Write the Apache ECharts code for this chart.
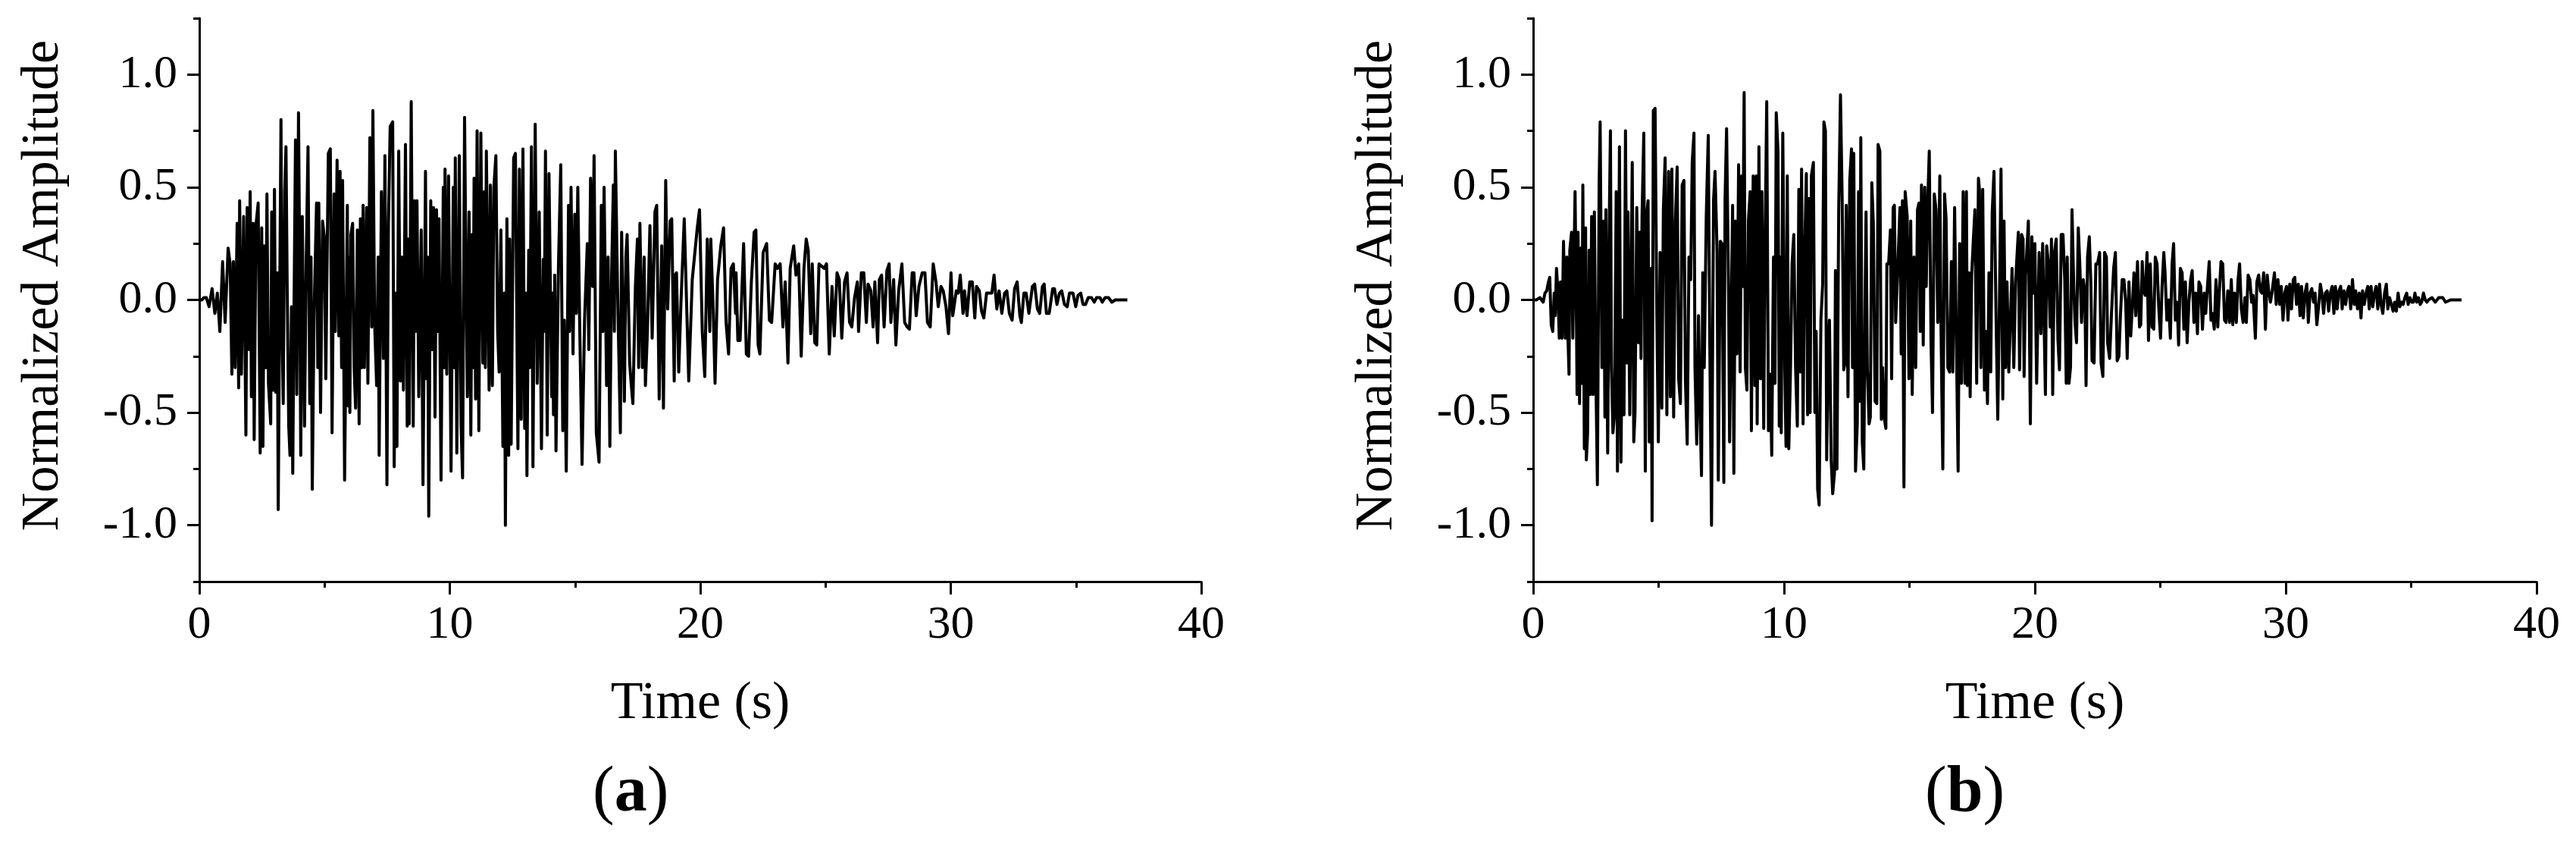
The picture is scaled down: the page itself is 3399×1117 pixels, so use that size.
<!DOCTYPE html>
<html>
<head>
<meta charset="utf-8">
<script src="https://cdn.jsdelivr.net/npm/echarts@6/dist/echarts.min.js"></script>
<style>
html,body{margin:0;padding:0;background:#fff;}
#chart{width:3399px;height:1117px;}
</style>
</head>
<body>
<div id="chart"></div>
<script>
// ---------- data ----------
const xTicks = [0, 10, 20, 30, 40];
const yMajorTicks = [-1.0, -0.5, 0.0, 0.5, 1.0];
const yMinorTicks = [-1.25, -0.75, -0.25, 0.25, 0.75, 1.25];
const xAxisTitle = 'Time (s)';
const yAxisTitle = 'Normalized Amplitude';
const panelLabels = ['a', 'b'];

// record (a): [time s, normalized amplitude]
const recordA = [
[0,0],[0.1,0.0],[0.19,0.01],[0.28,0.01],[0.39,-0.03],[0.51,0.05],[0.62,-0.06],[0.72,0.03],[0.82,-0.14],[0.93,0.17],[1.03,-0.10],[1.15,0.23],[1.23,0.16],[1.30,-0.33],[1.36,0.17],[1.43,-0.30],[1.51,0.34],[1.57,-0.39],[1.61,0.44],[1.68,-0.33],[1.77,0.37],[1.86,-0.60],[1.91,0.41],[1.96,-0.22],[2.03,0.48],[2.08,-0.43],[2.15,0.34],[2.19,-0.62],[2.26,0.33],[2.35,0.43],[2.43,-0.68],[2.49,0.32],[2.54,-0.65],[2.59,0.24],[2.65,-0.30],[2.70,0.47],[2.76,-0.37],[2.85,-0.55],[2.89,0.39],[2.95,-0.40],[3.00,0.49],[3.05,-0.41],[3.11,0.12],[3.15,-0.93],[3.26,0.80],[3.30,-0.10],[3.35,-0.46],[3.41,0.48],[3.46,0.68],[3.51,0.04],[3.57,-0.56],[3.62,-0.69],[3.68,-0.03],[3.73,-0.77],[3.78,-0.04],[3.84,0.71],[3.89,-0.42],[3.96,0.83],[4.00,0.27],[4.05,-0.69],[4.11,0.37],[4.20,-0.56],[4.27,0.19],[4.34,0.68],[4.41,-0.46],[4.46,0.19],[4.51,-0.84],[4.58,-0.07],[4.68,0.43],[4.73,-0.30],[4.77,0.43],[4.84,-0.50],[4.92,0.35],[4.99,0.28],[5.05,-0.35],[5.15,0.65],[5.23,0.67],[5.30,-0.59],[5.38,0.47],[5.43,-0.14],[5.50,0.62],[5.57,-0.16],[5.62,0.57],[5.68,-0.30],[5.72,0.53],[5.80,-0.80],[5.91,0.42],[5.93,-0.47],[5.99,0.19],[6.01,-0.50],[6.05,0.29],[6.12,0.34],[6.18,-0.30],[6.24,-0.48],[6.31,0.31],[6.38,-0.55],[6.43,0.36],[6.49,-0.30],[6.54,0.42],[6.59,-0.30],[6.68,0.41],[6.73,-0.37],[6.81,0.72],[6.88,-0.12],[6.93,0.84],[7.00,-0.11],[7.08,-0.38],[7.14,0.19],[7.18,-0.69],[7.27,0.48],[7.35,-0.26],[7.41,0.64],[7.49,-0.82],[7.55,0.34],[7.62,0.77],[7.72,0.79],[7.78,-0.74],[7.84,0.03],[7.89,-0.65],[7.96,0.66],[8.03,-0.36],[8.08,0.19],[8.15,-0.40],[8.23,0.69],[8.30,-0.56],[8.34,0.27],[8.38,-0.55],[8.46,0.88],[8.54,-0.56],[8.59,0.44],[8.65,-0.14],[8.69,0.44],[8.76,-0.43],[8.86,0.31],[8.93,-0.82],[9.03,0.57],[9.07,-0.35],[9.11,0.19],[9.16,-0.96],[9.24,0.44],[9.30,-0.22],[9.35,0.41],[9.41,-0.52],[9.47,0.40],[9.53,-0.14],[9.57,0.36],[9.65,-0.80],[9.74,0.50],[9.78,-0.30],[9.81,0.58],[9.88,-0.33],[9.95,0.55],[10.05,-0.76],[10.14,0.50],[10.18,-0.30],[10.22,0.63],[10.28,-0.68],[10.38,0.64],[10.45,-0.56],[10.51,-0.79],[10.59,0.81],[10.65,0.09],[10.70,-0.43],[10.77,0.39],[10.84,-0.60],[10.89,0.29],[10.93,-0.30],[10.97,0.54],[11.03,-0.44],[11.09,0.75],[11.16,-0.58],[11.24,0.74],[11.32,-0.28],[11.38,0.48],[11.42,-0.30],[11.46,0.66],[11.57,-0.40],[11.62,0.51],[11.70,-0.38],[11.76,0.50],[11.84,0.64],[11.91,-0.14],[11.97,-0.32],[12.04,0.31],[12.12,-0.65],[12.18,0.03],[12.22,-1.00],[12.28,0.36],[12.35,-0.69],[12.39,0.27],[12.45,-0.64],[12.55,0.63],[12.62,0.65],[12.72,-0.66],[12.78,0.58],[12.85,-0.53],[12.92,0.67],[12.99,-0.57],[13.03,0.03],[13.08,-0.78],[13.15,0.22],[13.19,-0.30],[13.26,0.68],[13.32,-0.74],[13.41,0.78],[13.49,-0.37],[13.57,0.39],[13.66,-0.66],[13.73,0.18],[13.77,-0.14],[13.82,0.66],[13.89,-0.60],[13.96,0.56],[14.07,-0.43],[14.11,0.03],[14.14,-0.51],[14.19,0.11],[14.24,-0.67],[14.34,0.16],[14.43,0.60],[14.51,-0.58],[14.57,-0.09],[14.65,-0.76],[14.74,0.42],[14.78,-0.14],[14.84,0.50],[14.92,-0.24],[14.99,0.38],[15.05,-0.06],[15.11,0.50],[15.18,-0.07],[15.28,-0.73],[15.38,-0.09],[15.49,0.25],[15.55,-0.22],[15.62,0.54],[15.70,0.06],[15.76,0.64],[15.85,-0.59],[15.96,-0.72],[16.05,0.42],[16.11,-0.14],[16.16,0.50],[16.26,-0.38],[16.32,0.19],[16.39,-0.65],[16.46,0.11],[16.53,0.51],[16.57,-0.14],[16.61,0.66],[16.70,0.03],[16.81,-0.59],[16.86,0.30],[16.97,-0.45],[17.03,0.19],[17.08,0.29],[17.18,-0.28],[17.24,-0.37],[17.31,-0.46],[17.41,0.06],[17.49,0.27],[17.54,-0.30],[17.59,0.34],[17.69,-0.30],[17.76,0.19],[17.81,-0.38],[17.89,-0.14],[17.99,0.33],[18.08,-0.17],[18.19,0.39],[18.26,0.42],[18.36,-0.44],[18.46,0.24],[18.53,-0.48],[18.62,0.53],[18.70,-0.04],[18.80,0.35],[18.86,0.36],[18.96,-0.36],[19.00,0.11],[19.05,0.12],[19.14,-0.32],[19.23,-0.01],
[19.36,0.36],[19.54,-0.36],[19.68,0.09],[19.88,0.32],[19.97,0.40],[20.08,-0.14],[20.18,-0.34],[20.28,0.27],[20.38,-0.14],[20.42,0.27],[20.51,-0.02],[20.59,-0.37],[20.69,0.09],[20.82,0.24],[20.93,0.32],[21.03,-0.10],[21.13,-0.24],[21.23,0.14],[21.32,0.16],[21.41,-0.06],[21.43,0.12],[21.50,-0.18],[21.59,-0.18],[21.73,0.25],[21.84,-0.24],[21.93,-0.25],[22.04,0.08],[22.15,0.30],[22.22,0.31],[22.31,-0.20],[22.38,-0.24],[22.51,0.21],[22.65,0.25],[22.76,-0.09],[22.85,-0.10],[22.99,0.16],[23.08,0.14],[23.19,0.16],[23.30,-0.12],[23.39,0.08],[23.50,-0.28],[23.59,0.14],[23.73,0.24],[23.82,0.11],[23.93,0.16],[24.03,-0.25],[24.14,0.14],[24.23,0.27],[24.31,0.22],[24.41,-0.15],[24.47,0.16],[24.57,-0.19],[24.65,-0.20],[24.74,0.16],[24.84,0.15],[24.95,0.14],[25.04,0.16],[25.15,-0.24],[25.26,0.06],[25.35,-0.16],[25.46,0.12],[25.55,0.09],[25.65,-0.17],[25.76,0.08],[25.86,0.12],[25.96,-0.10],[26.05,-0.12],[26.16,0.01],[26.27,0.08],[26.32,-0.14],[26.43,0.12],[26.53,0.12],[26.63,-0.10],[26.70,0.07],[26.81,0.04],[26.90,-0.12],[26.97,0.08],[27.08,-0.19],[27.15,0.09],[27.24,0.11],[27.34,-0.12],[27.45,0.13],[27.54,0.16],[27.61,-0.10],[27.72,0.09],[27.81,-0.20],[27.92,0.04],[28.05,0.16],[28.16,-0.10],[28.26,-0.12],[28.35,-0.13],[28.46,0.12],[28.53,0.12],[28.62,-0.07],[28.73,0.06],[28.86,0.12],[28.97,0.12],[29.07,-0.10],[29.18,-0.12],[29.30,0.16],[29.41,0.08],[29.50,-0.03],[29.61,0.06],[29.70,0.04],[29.81,-0.03],[29.91,-0.15],[30.01,0.12],[30.08,-0.07],[30.22,0.04],[30.30,0.03],[30.38,0.11],[30.49,-0.06],[30.55,0.04],[30.65,-0.07],[30.76,0.08],[30.86,0.08],[30.96,-0.08],[31.03,0.06],[31.14,0.04],[31.23,-0.05],[31.32,-0.08],[31.43,0.03],[31.54,0.03],[31.64,0.03],[31.73,0.11],[31.84,-0.04],[31.93,0.04],[32.04,-0.06],[32.15,0.03],[32.24,0.04],[32.34,-0.06],[32.45,-0.09],[32.55,0.05],[32.65,0.08],[32.76,-0.07],[32.82,-0.10],[32.92,0.03],[33.01,0.03],[33.12,-0.06],[33.26,0.06],[33.35,0.07],[33.46,-0.04],[33.55,-0.06],[33.66,0.06],[33.73,0.07],[33.82,-0.06],[33.93,-0.06],[34.07,0.05],[34.14,0.05],[34.24,-0.02],[34.34,0.03],[34.43,0.04],[34.54,-0.02],[34.65,-0.03],[34.74,0.03],[34.88,0.03],[34.99,-0.03],[35.08,0.02],[35.19,0.03],[35.28,-0.02],[35.38,-0.02],[35.49,0.01],[35.62,0.01],[35.73,-0.01],[35.82,0.01],[35.96,0.01],[36.05,-0.01],[36.16,0.01],[36.30,0.01],[36.43,-0.01],[36.57,0],[36.70,0],[37.05,0]
];

// record (b): [time s, normalized amplitude]
const recordB = [
[0,0],[0.13,0.0],[0.27,0.01],[0.40,-0.01],[0.47,0.03],[0.54,0.04],[0.61,0.08],[0.66,0.10],[0.72,-0.11],[0.78,-0.14],[0.84,0.03],[0.88,-0.07],[0.93,0.14],[0.99,0.03],[1.04,-0.17],[1.09,0.08],[1.15,-0.17],[1.21,0.26],[1.28,-0.17],[1.34,0.19],[1.39,-0.18],[1.43,-0.33],[1.46,0.22],[1.53,0.30],[1.58,-0.17],[1.63,0.19],[1.67,0.48],[1.73,-0.14],[1.75,-0.42],[1.79,0.30],[1.85,-0.46],[1.89,0.23],[1.94,-0.37],[1.98,0.51],[2.04,-0.66],[2.09,0.32],[2.12,-0.71],[2.17,-0.59],[2.23,0.22],[2.28,-0.42],[2.33,0.37],[2.39,-0.42],[2.44,0.39],[2.50,-0.34],[2.56,-0.82],[2.63,0.52],[2.67,0.79],[2.74,-0.30],[2.81,0.35],[2.86,-0.52],[2.90,0.40],[2.97,-0.68],[3.04,0.40],[3.08,0.75],[3.12,-0.30],[3.18,-0.59],[3.24,-0.51],[3.31,0.48],[3.36,-0.76],[3.44,0.68],[3.50,-0.72],[3.55,-0.09],[3.62,-0.51],[3.68,0.75],[3.74,-0.28],[3.78,0.39],[3.85,-0.51],[3.95,0.61],[4.01,-0.63],[4.06,-0.50],[4.13,0.41],[4.20,-0.19],[4.25,0.30],[4.30,-0.26],[4.34,0.37],[4.41,0.74],[4.47,-0.76],[4.52,0.37],[4.58,0.44],[4.63,-0.63],[4.70,0.14],[4.74,-0.98],[4.79,0.84],[4.86,0.85],[4.93,-0.07],[4.99,-0.63],[5.06,0.21],[5.13,-0.48],[5.19,0.40],[5.26,0.63],[5.33,-0.51],[5.40,0.57],[5.47,-0.43],[5.53,0.58],[5.60,-0.52],[5.67,0.35],[5.74,0.59],[5.80,-0.35],[5.87,-0.46],[5.94,0.51],[6.01,0.53],[6.07,-0.36],[6.14,-0.64],[6.21,0.19],[6.28,0.09],[6.34,0.61],[6.41,0.74],[6.45,-0.30],[6.52,-0.64],[6.59,-0.07],[6.65,-0.48],[6.71,-0.78],[6.76,0.12],[6.82,-0.30],[6.90,0.37],[6.98,0.73],[7.04,-0.19],[7.11,-1.00],[7.19,0.44],[7.25,0.57],[7.33,0.22],[7.38,-0.80],[7.46,0.26],[7.53,0.25],[7.60,-0.81],[7.65,0.45],[7.71,0.76],[7.79,0.03],[7.83,-0.63],[7.89,-0.63],[7.95,0.42],[8.00,-0.77],[8.06,0.35],[8.12,-0.24],[8.19,0.60],[8.25,-0.32],[8.31,0.55],[8.35,0.06],[8.41,0.92],[8.46,-0.30],[8.52,-0.40],[8.58,0.35],[8.65,0.48],[8.70,-0.58],[8.77,0.55],[8.84,-0.38],[8.89,0.55],[8.93,-0.55],[9.00,0.68],[9.06,-0.35],[9.12,0.48],[9.19,-0.57],[9.24,0.19],[9.31,0.88],[9.38,-0.58],[9.45,-0.33],[9.51,-0.69],[9.58,0.19],[9.64,-0.37],[9.69,0.83],[9.76,0.66],[9.81,-0.56],[9.85,0.19],[9.89,-0.59],[9.95,0.74],[10.03,-0.30],[10.08,-0.65],[10.13,0.55],[10.19,-0.66],[10.26,-0.30],[10.32,0.16],[10.39,0.29],[10.46,-0.30],[10.53,-0.56],[10.59,0.49],[10.65,-0.32],[10.70,0.58],[10.76,-0.55],[10.82,0.19],[10.89,0.56],[10.94,-0.51],[11.00,0.45],[11.04,-0.50],[11.09,0.55],[11.17,0.61],[11.23,-0.50],[11.28,-0.14],[11.34,-0.84],[11.40,-0.91],[11.47,-0.09],[11.54,0.07],[11.59,0.79],[11.65,0.75],[11.70,-0.71],[11.75,-0.30],[11.81,-0.09],[11.88,-0.71],[11.94,-0.86],[12.01,-0.77],[12.05,0.13],[12.11,-0.75],[12.18,0.40],[12.25,0.91],[12.32,0.43],[12.38,-0.31],[12.43,-0.28],[12.48,0.42],[12.55,-0.43],[12.62,0.53],[12.69,0.67],[12.73,-0.30],[12.78,0.65],[12.85,-0.76],[12.92,-0.55],[12.97,0.48],[13.02,-0.45],[13.06,0.72],[13.12,-0.63],[13.18,-0.75],[13.23,-0.01],[13.27,0.39],[13.32,-0.30],[13.39,-0.55],[13.44,-0.52],[13.50,0.52],[13.56,0.34],[13.63,-0.45],[13.70,-0.46],[13.75,0.69],[13.82,0.66],[13.88,-0.53],[13.93,-0.30],[13.99,-0.52],[14.06,-0.57],[14.10,0.16],[14.17,0.16],[14.24,0.31],[14.29,-0.35],[14.35,0.41],[14.40,0.42],[14.45,-0.10],[14.51,-0.10],[14.57,0.25],[14.62,0.41],[14.67,-0.24],[14.72,0.44],[14.78,-0.83],[14.83,0.48],[14.91,0.37],[14.98,-0.35],[15.05,0.35],[15.11,-0.42],[15.18,0.19],[15.25,-0.30],[15.32,0.40],[15.38,0.43],[15.43,-0.14],[15.48,0.51],[15.55,-0.20],[15.61,0.50],[15.67,0.06],[15.72,0.40],[15.79,0.66],[15.86,-0.19],[15.92,-0.50],[15.99,0.47],[16.06,0.40],[16.13,-0.10],[16.21,0.55],[16.26,-0.14],[16.33,-0.75],[16.40,0.47],[16.46,0.36],[16.53,-0.30],[16.60,-0.32],[16.67,0.17],[16.73,-0.32],[16.80,0.41],[16.87,-0.17],[16.94,-0.76],[17.00,0.25],[17.07,-0.37],[17.14,0.48],[17.21,-0.37],[17.27,0.48],[17.31,-0.38],[17.37,0.12],[17.42,-0.43],[17.48,0.11],[17.54,0.25],[17.61,0.40],[17.68,-0.37],[17.75,0.54],[17.79,0.49],[17.85,-0.30],[17.92,0.49],[17.99,-0.40],[18.04,-0.14],[18.11,-0.46],[18.17,0.12],[18.24,-0.32],[18.30,0.39],[18.37,0.57],[18.45,-0.06],[18.52,-0.53],[18.58,-0.07],[18.65,0.58],[18.72,-0.44],[18.77,0.35],[18.83,-0.30],[18.89,0.08],[18.96,-0.32],[19.01,-0.32],[19.09,0.14],[19.16,-0.30],[19.23,0.08],
[19.34,0.30],[19.39,-0.31],[19.47,0.29],[19.53,0.27],[19.57,-0.34],[19.63,0.11],[19.74,0.35],[19.82,-0.55],[19.88,0.28],[19.93,0.03],[20.00,0.25],[20.07,-0.37],[20.17,0.21],[20.24,-0.15],[20.31,0.25],[20.38,-0.18],[20.42,-0.42],[20.47,0.24],[20.54,0.16],[20.61,-0.12],[20.66,0.27],[20.71,-0.42],[20.78,0.21],[20.85,0.27],[20.92,-0.18],[20.98,-0.31],[21.05,0.29],[21.12,0.29],[21.19,0.09],[21.25,-0.37],[21.29,0.19],[21.36,-0.37],[21.42,-0.30],[21.48,0.40],[21.55,0.06],[21.60,-0.10],[21.66,-0.19],[21.73,0.32],[21.79,0.16],[21.86,-0.10],[21.93,0.09],[21.99,0.04],[22.04,-0.38],[22.10,0.19],[22.17,0.28],[22.23,0.08],[22.28,-0.27],[22.36,-0.28],[22.43,0.16],[22.50,0.16],[22.58,0.21],[22.64,-0.28],[22.71,-0.34],[22.78,0.21],[22.85,0.19],[22.90,-0.19],[22.98,-0.26],[23.05,-0.07],[23.14,0.14],[23.21,0.21],[23.28,-0.27],[23.35,-0.25],[23.41,-0.07],[23.48,0.09],[23.55,0.09],[23.62,-0.01],[23.68,-0.26],[23.75,0.08],[23.82,-0.16],[23.89,-0.02],[23.95,0.12],[24.02,-0.07],[24.09,0.17],[24.17,-0.12],[24.22,-0.11],[24.28,0.17],[24.33,0.04],[24.40,0.02],[24.47,0.21],[24.53,-0.18],[24.60,0.16],[24.67,-0.12],[24.74,-0.13],[24.80,0.19],[24.87,0.16],[24.94,-0.04],[25.01,-0.17],[25.07,0.06],[25.14,0.21],[25.19,0.12],[25.26,-0.09],[25.33,0.0],[25.40,-0.17],[25.47,0.16],[25.53,0.25],[25.60,-0.09],[25.67,-0.01],[25.73,-0.20],[25.80,0.14],[25.87,0.12],[25.94,-0.13],[26.00,0.08],[26.07,-0.19],[26.14,-0.01],[26.21,0.09],[26.27,0.13],[26.34,-0.10],[26.41,0.03],[26.48,-0.15],[26.54,0.08],[26.61,0.06],[26.68,-0.13],[26.75,0.03],[26.81,-0.06],[26.88,0.06],[26.95,0.17],[27.02,-0.09],[27.08,-0.06],[27.15,-0.13],[27.22,0.09],[27.29,-0.12],[27.35,0.03],[27.42,0.17],[27.49,0.16],[27.56,-0.09],[27.62,-0.10],[27.69,0.04],[27.76,-0.10],[27.83,0.09],[27.89,-0.11],[27.96,0.03],[28.03,-0.10],[28.10,0.09],[28.16,0.16],[28.23,-0.04],[28.30,-0.10],[28.37,0.01],[28.43,-0.10],[28.50,0.11],[28.57,0.09],[28.64,-0.01],[28.70,0.02],[28.79,-0.17],[28.85,0.08],[28.92,0.11],[28.99,0.04],[29.05,0.03],[29.12,0.12],[29.19,-0.13],[29.26,0.11],[29.32,0.04],[29.39,-0.01],[29.46,0.04],[29.55,0.12],[29.62,-0.02],[29.69,0.09],[29.76,-0.02],[29.82,0.06],[29.89,-0.09],[29.96,0.03],[30.03,0.06],[30.09,-0.09],[30.16,0.07],[30.23,-0.04],[30.30,0.09],[30.36,0.10],[30.43,-0.02],[30.50,0.07],[30.57,-0.07],[30.63,0.06],[30.70,-0.08],[30.77,0.03],[30.84,0.07],[30.90,-0.10],[30.97,0.03],[31.04,0.05],[31.11,-0.01],[31.17,0.03],[31.24,-0.11],[31.31,-0.03],[31.38,0.07],[31.44,0.03],[31.51,-0.06],[31.58,0.03],[31.65,0.04],[31.71,-0.05],[31.78,0.03],[31.85,0.06],[31.92,-0.06],[31.98,0.06],[32.05,-0.04],[32.12,0.04],[32.19,0.06],[32.25,-0.04],[32.32,0.04],[32.39,-0.02],[32.46,0.04],[32.52,0.06],[32.59,-0.04],[32.66,0.09],[32.73,-0.02],[32.79,0.04],[32.86,-0.04],[32.93,0.03],[33.00,-0.08],[33.06,0.04],[33.13,-0.02],[33.20,0.03],[33.27,0.06],[33.33,-0.04],[33.40,0.06],[33.47,-0.03],[33.54,0.03],[33.60,0.06],[33.67,-0.04],[33.74,0.07],[33.80,-0.02],[33.87,-0.06],[33.94,0.03],[34.01,0.07],[34.07,-0.04],[34.14,0.01],[34.21,-0.02],[34.28,-0.05],[34.34,-0.01],[34.41,-0.05],[34.48,0.03],[34.55,-0.03],[34.61,-0.01],[34.68,-0.02],[34.75,0.01],[34.82,0.03],[34.88,-0.02],[34.95,0.01],[35.02,-0.01],[35.09,-0.01],[35.15,0.03],[35.22,-0.01],[35.29,0.01],[35.36,-0.02],[35.42,-0.01],[35.49,0.03],[35.56,0.0],[35.63,-0.01],[35.69,0.0],[35.83,0.01],[35.96,-0.01],[36.10,0.01],[36.26,0.01],[36.37,-0.01],[36.57,0.0],[36.77,0.0],[37.01,0.0]
];

// ---------- chart ----------
const FONT = '"Liberation Serif","Times New Roman",Times,serif';
const grids = [
  {left: 263, top: 24, width: 1322, height: 743},
  {left: 2023, top: 24, width: 1324, height: 743}
];
const labelCenters = [842, 2600];
const records = [recordA, recordB];

const axisLineStyle = {color: '#000', width: 3};

const xAxes = grids.map((g, i) => ({
  gridIndex: i, type: 'value', min: xTicks[0], max: xTicks[xTicks.length - 1], interval: 10,
  name: xAxisTitle, nameLocation: 'middle', nameGap: 127,
  nameTextStyle: {fontFamily: FONT, fontSize: 70, color: '#000'},
  axisLine: {show: true, onZero: false, lineStyle: axisLineStyle},
  axisTick: {show: true, inside: false, length: 17, lineStyle: axisLineStyle},
  minorTick: {show: true, splitNumber: 2, length: 8, lineStyle: axisLineStyle},
  axisLabel: {show: true, fontFamily: FONT, fontSize: 62, color: '#000', margin: 27,
    formatter: v => String(v)},
  splitLine: {show: false}, minorSplitLine: {show: false}
}));

const yAxes = [];
grids.forEach((g, i) => {
  // major ticks + labels
  yAxes.push({
    gridIndex: i, type: 'value', position: 'left', min: -1.25, max: 1.25, interval: 0.25,
    name: yAxisTitle, nameLocation: 'middle', nameGap: 170, nameRotate: 90,
    nameTextStyle: {fontFamily: FONT, fontSize: 70, color: '#000', padding: [0, 0, 0, 38]},
    axisLine: {show: true, onZero: false, lineStyle: axisLineStyle},
    axisTick: {show: true, inside: false, length: 16, lineStyle: axisLineStyle, customValues: yMajorTicks},
    axisLabel: {show: true, fontFamily: FONT, fontSize: 62, color: '#000', margin: 29,
      customValues: yMajorTicks, formatter: v => v.toFixed(1)},
    splitLine: {show: false}
  });
  // minor ticks
  yAxes.push({
    gridIndex: i, type: 'value', position: 'left', offset: 0, min: -1.25, max: 1.25, interval: 0.25,
    axisLine: {show: false, onZero: false},
    axisTick: {show: true, inside: false, length: 8, lineStyle: axisLineStyle, customValues: yMinorTicks},
    axisLabel: {show: false},
    splitLine: {show: false}
  });
});

const series = records.map((rec, i) => ({
  type: 'line', xAxisIndex: i, yAxisIndex: i * 2,
  data: rec, showSymbol: false, symbol: 'none', sampling: null,
  lineStyle: {color: '#000', width: 4, join: 'round'},
  clip: true, z: 1
}));

const graphic = panelLabels.map((lab, i) => ({
  type: 'text', left: labelCenters[i] - 60, top: 1054 - 50,
  style: {
    text: '{n|(}{b|' + lab + '}{n|)}',
    width: 120, align: 'center',
    rich: {
      n: {fontFamily: FONT, fontSize: 86, fontWeight: 'normal', fill: '#000', color: '#000'},
      b: {fontFamily: FONT, fontSize: 86, fontWeight: 'bold', fill: '#000', color: '#000'}
    }
  }
}));

const chart = echarts.init(document.getElementById('chart'), null, {renderer: 'canvas'});
chart.setOption({
  animation: false,
  backgroundColor: '#fff',
  grid: grids,
  xAxis: xAxes,
  yAxis: yAxes,
  series: series,
  graphic: graphic
});
</script>
</body>
</html>
